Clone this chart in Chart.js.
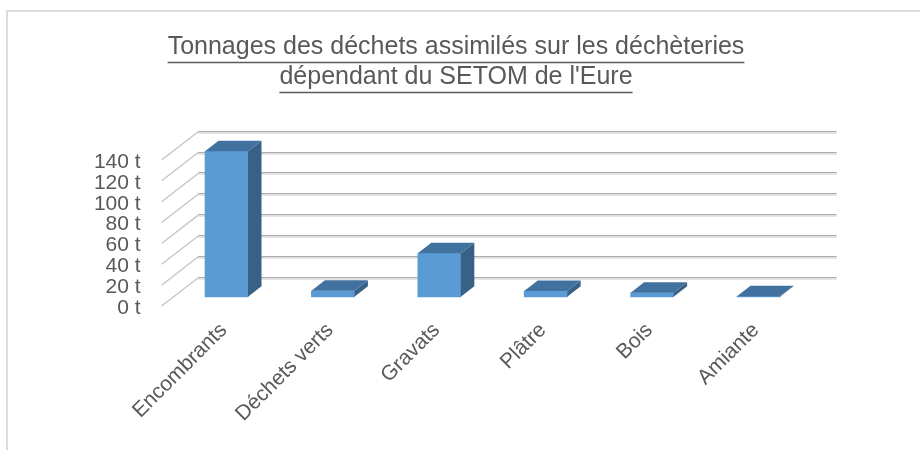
<!DOCTYPE html>
<html><head><meta charset="utf-8">
<script src="https://cdn.jsdelivr.net/npm/chart.js@4.4.1/dist/chart.umd.min.js"></script>
<style>
html,body{margin:0;padding:0;background:#fff;}
#wrap{position:relative;width:920px;height:450px;overflow:hidden;background:#fff;}
#frame{position:absolute;left:6px;top:10px;width:1000px;height:1000px;border-left:2px solid #dcdcdc;border-top:2px solid #dcdcdc;}
canvas{position:absolute;left:0;top:0;}
</style></head><body>
<div id="wrap"><div id="frame"></div><canvas id="c" width="920" height="450"></canvas></div>
<script>
const titleLines = ["Tonnages des déchets assimilés sur les déchèteries", "dépendant du SETOM de l'Eure"];
const categories = ["Encombrants", "Déchets verts", "Gravats", "Plâtre", "Bois", "Amiante"];
const tonnages = [139.5, 5.8, 41.7, 5.5, 3.8, 0.5];
const yTicks = [0, 20, 40, 60, 80, 100, 120, 140];
const yUnit = " t";

const FONT = "'Liberation Sans', Arial, sans-serif";
const TEXT = "#595959";
const depth = {x: 36.6, y: -28.3};
const barShift = {x: 11.7, y: -9.2};
const barDepth = {x: 13.5, y: -10.5};

const threeD = {
  id: 'threeD',
  beforeDatasetsDraw(chart) {
    const ctx = chart.ctx, ys = chart.scales.y, ca = chart.chartArea;
    ctx.save();
    ctx.strokeStyle = '#c4c4c4';
    ctx.lineWidth = 1.3;
    yTicks.forEach(v => {
      const y = ys.getPixelForValue(v);
      ctx.beginPath();
      ctx.moveTo(ca.left, y);
      ctx.lineTo(ca.left + depth.x, y + depth.y);
      ctx.stroke();
    });
    yTicks.forEach(v => {
      const y = Math.round(ys.getPixelForValue(v) + depth.y);
      ctx.fillStyle = '#acacac';
      ctx.fillRect(ca.left + depth.x, y - 1, ca.right - ca.left, 1.3);
      ctx.fillStyle = '#dedede';
      ctx.fillRect(ca.left + depth.x, y + 0.3, ca.right - ca.left, 1.5);
    });
    ctx.restore();
    ctx.save();
    ctx.translate(barShift.x, barShift.y);
  },
  afterDatasetsDraw(chart) {
    const ctx = chart.ctx;
    const meta = chart.getDatasetMeta(0);
    meta.data.forEach(bar => {
      const x0 = bar.x - bar.width / 2, x1 = bar.x + bar.width / 2;
      const yt = bar.y, yb = bar.base;
      ctx.fillStyle = '#386185';
      ctx.beginPath();
      ctx.moveTo(x1, yt);
      ctx.lineTo(x1 + barDepth.x, yt + barDepth.y);
      ctx.lineTo(x1 + barDepth.x, yb + barDepth.y);
      ctx.lineTo(x1, yb);
      ctx.closePath();
      ctx.fill();
      ctx.fillStyle = '#41729f';
      ctx.beginPath();
      ctx.moveTo(x0, yt);
      ctx.lineTo(x1, yt);
      ctx.lineTo(x1 + barDepth.x, yt + barDepth.y);
      ctx.lineTo(x0 + barDepth.x, yt + barDepth.y);
      ctx.closePath();
      ctx.fill();
    });
    ctx.restore();
  },
  afterDraw(chart) {
    const tb = chart.titleBlock;
    if (!tb) return;
    const opts = chart.options.plugins.title;
    const font = Chart.helpers.toFont(opts.font);
    const pad = Chart.helpers.toPadding(opts.padding);
    const ctx = chart.ctx;
    ctx.save();
    ctx.font = font.string;
    ctx.strokeStyle = TEXT;
    ctx.lineWidth = 1.5;
    const cx = (tb.left + tb.right) / 2;
    titleLines.forEach((line, i) => {
      const w = ctx.measureText(line).width;
      const y = tb.top + pad.top + font.lineHeight / 2 + i * font.lineHeight + 15.5;
      ctx.beginPath();
      ctx.moveTo(cx - w / 2, y);
      ctx.lineTo(cx + w / 2, y);
      ctx.stroke();
    });
    ctx.restore();
  }
};

new Chart(document.getElementById('c'), {
  type: 'bar',
  data: {
    labels: categories,
    datasets: [{
      data: tonnages,
      backgroundColor: '#5b9bd5',
      borderWidth: 0,
      barThickness: 43,
      clip: false
    }]
  },
  options: {
    responsive: false,
    animation: false,
    devicePixelRatio: 1,
    layout: {padding: {left: 0, right: 8, top: 0, bottom: 0}},
    plugins: {
      legend: {display: false},
      tooltip: {enabled: false},
      title: {
        display: true,
        text: titleLines,
        color: TEXT,
        font: {family: FONT, size: 25, weight: 'normal', lineHeight: 1.2},
        padding: {top: 32, bottom: 68}
      }
    },
    scales: {
      x: {
        grid: {display: false},
        border: {display: false},
        ticks: {
          color: TEXT,
          font: {family: FONT, size: 21},
          autoSkip: false,
          minRotation: 45,
          maxRotation: 45,
          labelOffset: 9,
          padding: 4
        },
        afterFit(s) { s.height = 144; }
      },
      y: {
        min: 0,
        max: 140,
        grid: {display: false},
        border: {display: false},
        afterBuildTicks(s) { s.ticks = yTicks.map(v => ({value: v})); },
        ticks: {
          color: TEXT,
          font: {family: FONT, size: 21},
          padding: 13,
          labelOffset: 2,
          autoSkip: false,
          callback: v => v + yUnit
        },
        afterFit(s) { s.width = 161.6; }
      },
      yRight: {
        position: 'right',
        display: true,
        grid: {display: false},
        border: {display: false},
        ticks: {display: false},
        afterFit(s) { s.width = 112; }
      }
    }
  },
  plugins: [threeD]
});
</script>
</body></html>
